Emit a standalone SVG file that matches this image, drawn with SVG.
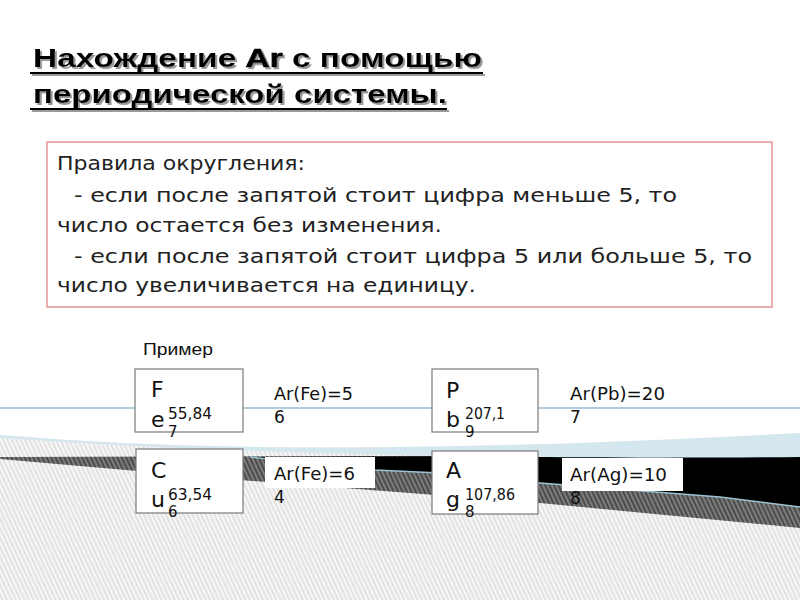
<svg xmlns="http://www.w3.org/2000/svg" width="800" height="600" viewBox="0 0 800 600">
<defs>
<pattern id="lightHatch" patternUnits="userSpaceOnUse" width="4" height="4" patternTransform="rotate(-25)">
<rect width="4" height="4" fill="#f7f7f7"/>
<rect width="1.6" height="4" fill="#dedede"/>
</pattern>
<pattern id="darkHatch" patternUnits="userSpaceOnUse" width="4" height="4" patternTransform="rotate(-25)">
<rect width="4" height="4" fill="#7c7c7c"/>
<rect width="2" height="4" fill="#4c4c4c"/>
</pattern>
<filter id="shadow" x="-5%" y="-20%" width="110%" height="140%">
<feOffset in="SourceAlpha" dx="2" dy="2" result="off"/>
<feFlood flood-color="#9a9a9a"/>
<feComposite in2="off" operator="in" result="sh"/>
<feMerge><feMergeNode in="sh"/><feMergeNode in="SourceGraphic"/></feMerge>
</filter>
<style>
.title{font-family:"Liberation Sans",Arial,sans-serif;font-weight:bold;font-size:25px;fill:#000}
.ar{stroke:#000;stroke-width:0.7}
.rule{font-family:"DejaVu Sans","Liberation Sans",sans-serif;font-size:19px;fill:#222}
.el{font-family:"DejaVu Sans","Liberation Sans",sans-serif;font-size:22px;fill:#111}
.sup{font-family:"DejaVu Sans","Liberation Sans",sans-serif;font-size:15px;fill:#111}
.lbl{font-family:"DejaVu Sans","Liberation Sans",sans-serif;font-size:17px;fill:#111}
.cap{font-family:"Liberation Sans",Arial,sans-serif;font-size:17px;fill:#111}
.box{fill:#fff;stroke:#7a7a7a;stroke-width:1.2}
</style>
</defs>
<g id="background">
<rect width="800" height="600" fill="#fff"/>
<line x1="0" y1="408" x2="800" y2="408" stroke="#6b9ab3" stroke-width="1.2"/>
<path d="M0,435 C200,452 450,452 800,433 L800,600 L0,600 Z" fill="url(#lightHatch)"/>
<polygon points="0,457 800,455 800,528 540,503 240,480 0,459" fill="url(#darkHatch)"/>
<polygon points="250,457 800,455 800,507 720,497 540,483 440,473 375,470" fill="#000"/>
<polyline points="250,457 375,470 440,473 540,483 720,497 800,507" fill="none" stroke="#9cc3d5" stroke-width="1.5"/>
<path d="M0,435 C200,452 450,452 800,433 L800,457 C600,459 300,458 0,438 Z" fill="#d4e6ee"/>
</g>
<g id="title" filter="url(#shadow)">
<text class="title" x="33" y="67" textLength="449" lengthAdjust="spacingAndGlyphs">Нахождение <tspan class="ar">Ar</tspan> с помощью</text>
<text class="title" x="33" y="103" textLength="414" lengthAdjust="spacingAndGlyphs">периодической системы.</text>
<line x1="30" y1="73" x2="483" y2="73" stroke="#000" stroke-width="2"/>
<line x1="30" y1="109" x2="447" y2="109" stroke="#000" stroke-width="2"/>
</g>
<g id="rules">
<rect x="47" y="142" width="725" height="165" fill="#fff" stroke="#e07b7b" stroke-width="1.2"/>
<text class="rule" x="57" y="170" textLength="248" lengthAdjust="spacingAndGlyphs">Правила округления:</text>
<text class="rule" x="74" y="202" textLength="603" lengthAdjust="spacingAndGlyphs">- если после запятой стоит цифра меньше 5, то</text>
<text class="rule" x="57" y="232" textLength="385" lengthAdjust="spacingAndGlyphs">число остается без изменения.</text>
<text class="rule" x="74" y="263" textLength="678" lengthAdjust="spacingAndGlyphs">- если после запятой стоит цифра 5 или больше 5, то</text>
<text class="rule" x="57" y="292" textLength="419" lengthAdjust="spacingAndGlyphs">число увеличивается на единицу.</text>
</g>
<g id="example-caption">
<text class="cap" x="143" y="355" textLength="70" lengthAdjust="spacingAndGlyphs">Пример</text>
</g>
<g id="node-fe">
<rect class="box" x="135" y="369" width="108" height="63"/>
<text class="el" x="151" y="397">F</text>
<text class="el" x="151" y="427">e</text>
<text class="sup" x="168" y="419" textLength="44" lengthAdjust="spacingAndGlyphs">55,84</text>
<text class="sup" x="168" y="437">7</text>
</g>
<g id="node-pb">
<rect class="box" x="432" y="369" width="106" height="63"/>
<text class="el" x="446" y="398">P</text>
<text class="el" x="446" y="427">b</text>
<text class="sup" x="465" y="419" textLength="40" lengthAdjust="spacingAndGlyphs">207,1</text>
<text class="sup" x="465" y="437">9</text>
</g>
<g id="node-cu">
<rect class="box" x="136" y="449" width="107" height="64"/>
<text class="el" x="151" y="478">C</text>
<text class="el" x="151" y="507">u</text>
<text class="sup" x="168" y="500" textLength="44" lengthAdjust="spacingAndGlyphs">63,54</text>
<text class="sup" x="168" y="517">6</text>
</g>
<g id="node-ag">
<rect class="box" x="432" y="451" width="106" height="63"/>
<text class="el" x="446" y="478">A</text>
<text class="el" x="446" y="507">g</text>
<text class="sup" x="465" y="500" textLength="50" lengthAdjust="spacingAndGlyphs">107,86</text>
<text class="sup" x="465" y="517">8</text>
</g>
<g id="label-fe">
<text class="lbl" x="274" y="400" textLength="79" lengthAdjust="spacingAndGlyphs">Ar(Fe)=5</text>
<text class="lbl" x="274" y="423">6</text>
</g>
<g id="label-pb">
<text class="lbl" x="570" y="400" textLength="95" lengthAdjust="spacingAndGlyphs">Ar(Pb)=20</text>
<text class="lbl" x="570" y="423">7</text>
</g>
<g id="label-cu">
<rect x="265" y="457" width="110" height="31" fill="#fff"/>
<text class="lbl" x="274" y="480" textLength="81" lengthAdjust="spacingAndGlyphs">Ar(Fe)=6</text>
<text class="lbl" x="274" y="503">4</text>
</g>
<g id="label-ag">
<rect x="562" y="458" width="121" height="33" fill="#fff"/>
<text class="lbl" x="570" y="481" textLength="97" lengthAdjust="spacingAndGlyphs">Ar(Ag)=10</text>
<text class="lbl" x="570" y="504">8</text>
</g>
</svg>
